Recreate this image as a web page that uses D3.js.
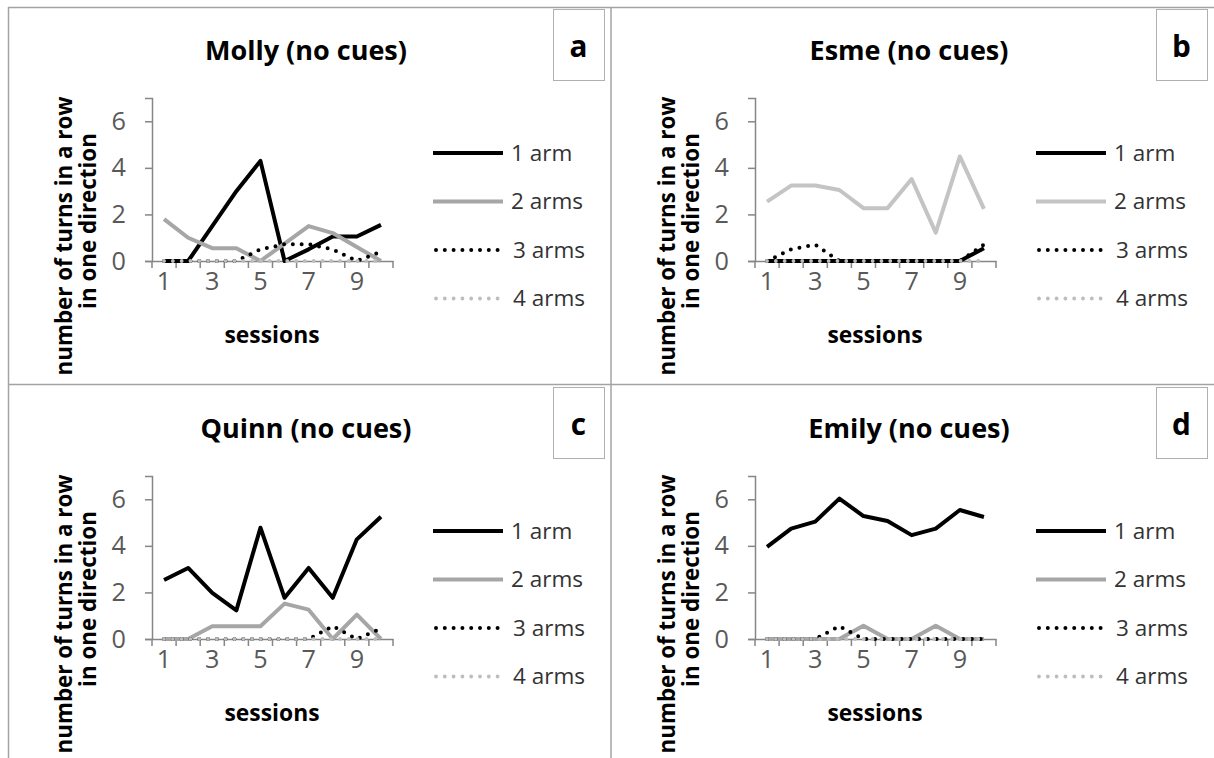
<!DOCTYPE html>
<html>
<head>
<meta charset="utf-8">
<script src="https://cdn.jsdelivr.net/npm/d3@7"></script>
<style>
  html, body { margin: 0; padding: 0; background: #fff; }
  svg { display: block; font-family: "Open Sans", "Liberation Sans", sans-serif; }
</style>
</head>
<body>
<svg id="chart" width="1214" height="758"></svg>
<script>
// ---------------- data ----------------
const sessions = [1, 2, 3, 4, 5, 6, 7, 8, 9, 10];
const xTickLabels = ["1", "3", "5", "7", "9"];
const yTicks = [0, 2, 4, 6];
const seriesNames = ["1 arm", "2 arms", "3 arms", "4 arms"];
const panelTitles = ["Molly (no cues)", "Esme (no cues)", "Quinn (no cues)", "Emily (no cues)"];
const panelLetters = ["a", "b", "c", "d"];

const molly1 = [0, 0, 1.5, 3, 4.3, 0, 0.5, 1.05, 1.05, 1.55];
const molly2 = [1.8, 1, 0.55, 0.55, 0, 0.75, 1.5, 1.2, 0.6, 0];
const molly3 = [0, 0, 0, 0, 0.5, 0.72, 0.72, 0.5, 0, 0.4];
const molly4 = [0, 0, 0, 0, 0, 0, 0, 0, 0, 0];

const esme1 = [0, 0, 0, 0, 0, 0, 0, 0, 0, 0.55];
const esme2 = [2.55, 3.24, 3.24, 3.05, 2.27, 2.27, 3.52, 1.22, 4.49, 2.24];
const esme3 = [0, 0.5, 0.7, 0, 0, 0, 0, 0, 0, 0.7];
const esme4 = [0, 0, 0, 0, 0, 0, 0, 0, 0, 0];

const quinn1 = [2.53, 3.05, 1.98, 1.23, 4.78, 1.77, 3.05, 1.77, 4.28, 5.25];
const quinn2 = [0, 0, 0.55, 0.55, 0.55, 1.52, 1.26, 0, 1.05, 0];
const quinn3 = [0, 0, 0, 0, 0, 0, 0, 0.55, 0, 0.45];
const quinn4 = [0, 0, 0, 0, 0, 0, 0, 0, 0, 0];

const emily1 = [3.96, 4.74, 5.04, 6.03, 5.28, 5.07, 4.46, 4.74, 5.54, 5.24];
const emily2 = [0, 0, 0, 0, 0.57, 0, 0, 0.57, 0, 0];
const emily3 = [0, 0, 0, 0.55, 0, 0, 0, 0, 0, 0];
const emily4 = [0, 0, 0, 0, 0, 0, 0, 0, 0, 0];

const panelSeries = [
  [molly1, molly2, molly3, molly4],
  [esme1, esme2, esme3, esme4],
  [quinn1, quinn2, quinn3, quinn4],
  [emily1, emily2, emily3, emily4]
];

// ---------------- styles ----------------
const grayDark = "#a6a6a6", grayLight = "#c4c4c4";
const panelStyles = [
  { gray: grayDark }, { gray: grayLight }, { gray: grayDark }, { gray: grayDark }
];
function seriesStyle(i, p) {
  if (i === 0) return { color: "#000", width: 4, dash: null };
  if (i === 1) return { color: panelStyles[p].gray, width: 4, dash: null };
  if (i === 2) return { color: "#000", width: 4, dash: "0 8.8" };
  return { color: "#bdbdbd", width: 3.8, dash: "0 8.8" };
}

// ---------------- layout ----------------
const svg = d3.select("#chart");
const W = 1214, H = 758;
const colOff = 603, rowOff = 378;

// outer frame lines
const frame = svg.append("g").attr("stroke", "#a3a3a3").attr("stroke-width", 1.5);
frame.append("line").attr("x1", 8).attr("x2", W).attr("y1", 7.5).attr("y2", 7.5);
frame.append("line").attr("x1", 8).attr("x2", W).attr("y1", 384.5).attr("y2", 384.5);
frame.append("line").attr("x1", 8.5).attr("x2", 8.5).attr("y1", 7).attr("y2", H);
frame.append("line").attr("x1", 611).attr("x2", 611).attr("y1", 7).attr("y2", H);

function fitSize(sel, base, target) {
  sel.attr("font-size", base);
  const w = sel.node().getComputedTextLength();
  return base * target / w;
}

// probes to determine font sizes
const probe = svg.append("g");
const titleSize = fitSize(probe.append("text").attr("font-weight", "bold").text(panelTitles[0]), 30, 202);
const ylabSize = fitSize(probe.append("text").attr("font-weight", "bold").text("number of turns in a row"), 20, 279);
const legSize = fitSize(probe.append("text").text("2 arms"), 20, 72);
const sessSize = fitSize(probe.append("text").attr("font-weight", "bold").text("sessions"), 20, 95);
const tickSize = legSize * 1.12;
probe.remove();

panelTitles.forEach((title, p) => {
  const col = p % 2, row = Math.floor(p / 2);
  const g = svg.append("g").attr("transform", `translate(${col * colOff},${row * rowOff})`);

  const x = d3.scaleBand().domain(sessions).range([152, 393]);
  const y = d3.scaleLinear().domain([0, 7]).range([261, 98]);

  // title
  g.append("text").attr("x", 306).attr("y", 60).attr("text-anchor", "middle")
    .attr("font-weight", "bold").attr("font-size", titleSize).attr("fill", "#000").text(title);

  // letter box
  g.append("rect").attr("x", 553.5).attr("y", 9.5).attr("width", 51).attr("height", 71)
    .attr("fill", "#fff").attr("stroke", "#b0b0b0").attr("stroke-width", 1);
  g.append("text").attr("x", 578.5).attr("y", 57).attr("text-anchor", "middle")
    .attr("font-weight", "bold").attr("font-size", titleSize * 1.1).attr("fill", "#000").text(panelLetters[p]);

  // y axis label
  g.append("text").attr("transform", "translate(72,236) rotate(-90)").attr("text-anchor", "middle")
    .attr("font-weight", "bold").attr("font-size", ylabSize).attr("fill", "#000").text("number of turns in a row");
  g.append("text").attr("transform", "translate(96,221) rotate(-90)").attr("text-anchor", "middle")
    .attr("font-weight", "bold").attr("font-size", ylabSize).attr("fill", "#000").text("in one direction");

  // axes
  const yAxis = d3.axisLeft(y).tickValues(yTicks).tickSize(7).tickPadding(19).tickFormat(d3.format("d"));
  const yg = g.append("g").attr("transform", "translate(152,0)").call(yAxis);
  yg.select(".domain").attr("stroke", "#868686").attr("stroke-width", 1.5);
  yg.selectAll(".tick line").attr("stroke", "#868686").attr("stroke-width", 1.5);
  yg.selectAll(".tick text").attr("font-size", tickSize).attr("fill", "#595959")
    .attr("font-family", "'Open Sans', sans-serif");

  const xAxis = d3.axisBottom(x).tickSize(0).tickPadding(11)
    .tickValues(sessions.filter(s => xTickLabels.includes(String(s))));
  const xg = g.append("g").attr("transform", "translate(0,261)").call(xAxis);
  xg.select(".domain").attr("stroke", "#868686").attr("stroke-width", 1.5);
  xg.selectAll(".tick text").attr("font-size", tickSize).attr("fill", "#595959")
    .attr("font-family", "'Open Sans', sans-serif");
  // boundary tick marks between categories
  const bounds = sessions.map(s => x(s)).concat([x.range()[1]]);
  g.append("g").selectAll("line").data(bounds).join("line")
    .attr("x1", d => d).attr("x2", d => d).attr("y1", 261).attr("y2", 268)
    .attr("stroke", "#868686").attr("stroke-width", 1.5);

  g.append("text").attr("x", 272).attr("y", 343).attr("text-anchor", "middle")
    .attr("font-weight", "bold").attr("font-size", sessSize).attr("fill", "#000").text("sessions");

  // series lines
  const line = d3.line().x((d, i) => x(sessions[i]) + x.bandwidth() / 2).y(d => y(d));
  panelSeries[p].forEach((vals, i) => {
    const st = seriesStyle(i, p);
    g.append("path").datum(vals).attr("d", line).attr("fill", "none")
      .attr("stroke", st.color).attr("stroke-width", st.width)
      .attr("stroke-linejoin", "round")
      .attr("stroke-linecap", st.dash ? "round" : "butt")
      .attr("stroke-dasharray", st.dash);
  });

  // legend
  seriesNames.forEach((name, i) => {
    const st = seriesStyle(i, p);
    const ly = 153 + i * 48.5;
    g.append("line").attr("x1", st.dash ? 436 : 433).attr("x2", st.dash ? 499 : 503).attr("y1", ly).attr("y2", ly)
      .attr("stroke", st.color).attr("stroke-width", st.width)
      .attr("stroke-linecap", st.dash ? "round" : "butt").attr("stroke-dasharray", st.dash);
    g.append("text").attr("x", i < 2 ? 511 : 513).attr("y", ly).attr("dy", "0.35em")
      .attr("font-size", legSize).attr("fill", "#333").text(name);
  });
});
</script>
</body>
</html>
